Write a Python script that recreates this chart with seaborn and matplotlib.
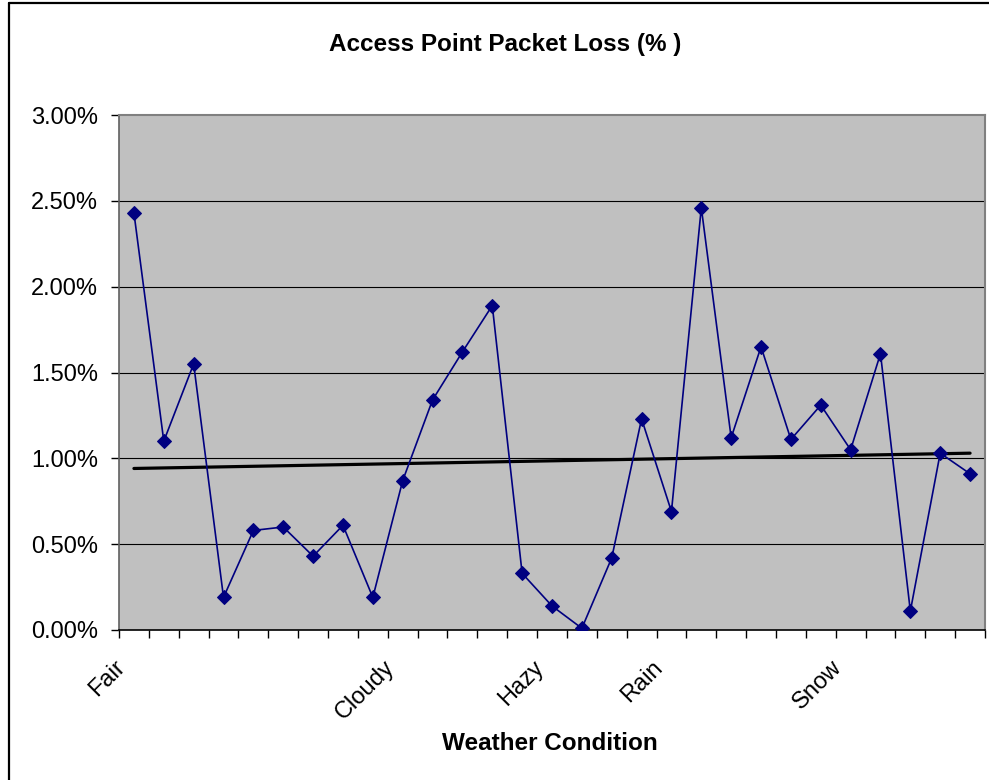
import numpy as np
import pandas as pd
import matplotlib
matplotlib.use("Agg")
import matplotlib.pyplot as plt
import matplotlib.transforms as mtransforms
from matplotlib.lines import Line2D
import seaborn as sns

# Packet loss per measurement, in percent
packet_loss = [2.43, 1.10, 1.55, 0.19, 0.58, 0.60, 0.43, 0.61, 0.19, 0.87,
               1.34, 1.62, 1.89, 0.33, 0.14, 0.01, 0.42, 1.23, 0.69, 2.46,
               1.12, 1.65, 1.11, 1.31, 1.05, 1.61, 0.11, 1.03, 0.91]
# Weather condition label shown under a measurement (blank where none)
condition_labels = ["Fair", "", "", "", "", "", "", "", "", "Cloudy",
                    "", "", "", "", "Hazy", "", "", "", "Rain", "",
                    "", "", "", "", "Snow", "", "", "", ""]
y_ticks = [0.0, 0.5, 1.0, 1.5, 2.0, 2.5, 3.0]

df = pd.DataFrame({"idx": np.arange(len(packet_loss)), "loss": packet_loss})

sns.set_theme(style="white")
plt.rcParams["font.family"] = ["Liberation Sans", "DejaVu Sans"]
plt.rcParams["text.color"] = "black"
plt.rcParams["xtick.color"] = "black"
plt.rcParams["ytick.color"] = "black"
plt.rcParams["xtick.labelcolor"] = "black"
plt.rcParams["ytick.labelcolor"] = "black"

W, H = 989, 780
fig = plt.figure(figsize=(W / 100, H / 100), dpi=100)
fig.patch.set_facecolor("white")

left, right, top, bottom = 119, 985, 115, 630
ax = fig.add_axes([left / W, 1 - bottom / H, (right - left) / W, (bottom - top) / H])
ax.set_facecolor("#C0C0C0")

# Gridlines
for yv in y_ticks[1:-1]:
    ax.axhline(yv, color="black", lw=0.8, zorder=1)

# Linear trend line
sns.regplot(data=df, x="idx", y="loss", scatter=False, ci=None, ax=ax,
            line_kws=dict(color="black", lw=2.3, zorder=2))

# Data series
sns.lineplot(data=df, x="idx", y="loss", ax=ax, color="#000080", lw=1.2,
             marker="D", markersize=7, markeredgecolor="#000080",
             markerfacecolor="#000080", zorder=3)

n = len(packet_loss)
ax.set_xlim(-0.5, n - 0.5)
ax.set_ylim(0, 3.0)

# Category boundaries as major ticks, labels on minor ticks
ax.set_xticks(np.arange(n + 1) - 0.5)
ax.set_xticklabels([])
label_pos = [i for i, s in enumerate(condition_labels) if s]
ax.set_xticks(label_pos, minor=True)
ax.set_xticklabels([condition_labels[i] for i in label_pos], minor=True,
                   rotation=45, ha="right", va="top", fontsize=17)
ax.tick_params(axis="x", which="major", direction="out", length=5.5,
               width=1, color="black", bottom=True)
ax.tick_params(axis="x", which="minor", length=0, pad=19)
offset = mtransforms.ScaledTranslation(-4 / 100, 0, fig.dpi_scale_trans)
for lab in ax.get_xticklabels(minor=True):
    lab.set_transform(lab.get_transform() + offset)

ax.set_yticks(y_ticks)
ax.set_yticklabels([f"{v:.2f}%" for v in y_ticks], fontsize=17)
ax.tick_params(axis="y", direction="out", length=6, width=1, color="black",
               pad=9, left=True)

ax.set_xlabel("")
ax.set_ylabel("")

for side in ["top", "right"]:
    ax.spines[side].set_color("#808080")
    ax.spines[side].set_linewidth(1.5)
ax.spines["left"].set_color("#606060")
ax.spines["left"].set_linewidth(1.2)
ax.spines["bottom"].set_color("black")
ax.spines["bottom"].set_linewidth(1.2)

# Chart titles
fig.text(505 / W, 1 - 45 / H, "Access Point Packet Loss (% )", ha="center",
         va="center", fontsize=17.5, fontweight="bold", color="black")
fig.text(550 / W, 1 - 743 / H, "Weather Condition", ha="center",
         va="center", fontsize=17.5, fontweight="bold", color="black")

# Chart area frame
fig.add_artist(Line2D([8.5 / W, 8.5 / W], [0, 1 - 3 / H], color="black",
                      lw=1.6, transform=fig.transFigure))
fig.add_artist(Line2D([8.5 / W, 1], [1 - 3 / H, 1 - 3 / H], color="black",
                      lw=1.6, transform=fig.transFigure))

fig.savefig("out.png", dpi=100)
